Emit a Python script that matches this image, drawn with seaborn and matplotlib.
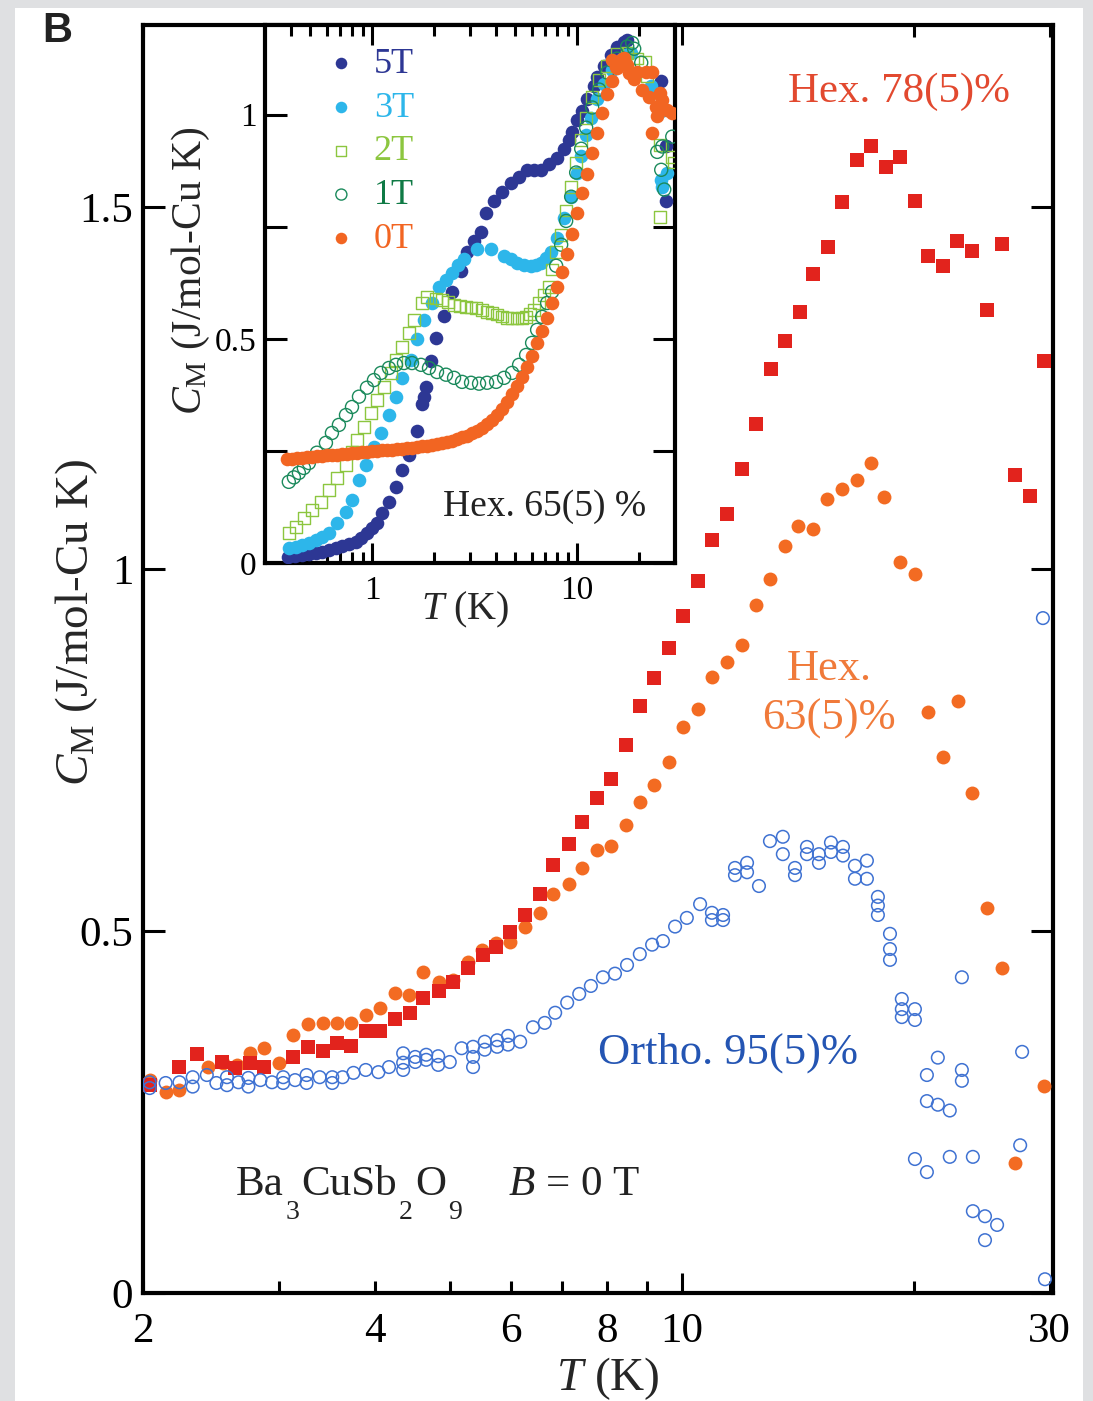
import matplotlib
matplotlib.use("Agg")
import matplotlib.pyplot as plt
from matplotlib.patches import Rectangle
from matplotlib.ticker import FixedLocator, FixedFormatter
import pandas as pd
import seaborn as sns

# ---------------- main panel: B = 0 T ----------------
hex78_T = [2.04, 2.23, 2.35, 2.53, 2.63, 2.75, 2.87, 3.13, 3.27, 3.42, 3.57, 3.72, 3.89,
           4.06, 4.24, 4.44, 4.61, 4.84, 5.05, 5.28, 5.52, 5.74, 5.98, 6.26, 6.55, 6.80,
           7.14, 7.42, 7.76, 8.09, 8.46, 8.82, 9.20, 9.62, 10.03, 10.49, 10.94, 11.44,
           11.96, 12.48, 13.05, 13.60, 14.23, 14.79, 15.47, 16.13, 16.87, 17.59, 18.40,
           19.18, 20.06, 20.86, 21.82, 22.74, 23.78, 24.87, 26.01, 27.04, 28.28, 29.49]
hex78_C = [.287, .312, .330, .319, .311, .318, .312, .326, .340, .334, .345, .341, .362,
           .362, .378, .387, .407, .417, .430, .449, .467, .478, .499, .522, .551, .591,
           .620, .651, .684, .710, .757, .811, .849, .890, .935, .983, 1.040, 1.076,
           1.138, 1.200, 1.276, 1.315, 1.354, 1.407, 1.445, 1.507, 1.565, 1.584, 1.555,
           1.569, 1.508, 1.432, 1.418, 1.453, 1.439, 1.358, 1.448, 1.130, 1.101, 1.287]

hex63_T = [2.04, 2.14, 2.23, 2.43, 2.54, 2.65, 2.75, 2.87, 3.00, 3.13, 3.27, 3.42, 3.57,
           3.72, 3.89, 4.06, 4.24, 4.43, 4.61, 4.84, 5.05, 5.28, 5.51, 5.74, 5.98, 6.26,
           6.55, 6.80, 7.14, 7.42, 7.76, 8.09, 8.46, 8.82, 9.20, 9.62, 10.03, 10.49,
           10.94, 11.44, 11.96, 12.48, 13.01, 13.60, 14.14, 14.79, 15.42, 16.13, 16.87,
           17.59, 18.29, 19.18, 20.06, 20.86, 21.82, 22.80, 23.78, 24.87, 26.01, 27.04,
           29.49]
hex63_C = [.294, .278, .280, .312, .318, .315, .331, .338, .318, .356, .372, .373, .373,
           .373, .384, .394, .414, .412, .443, .430, .432, .457, .474, .483, .485, .506,
           .525, .551, .565, .587, .612, .617, .646, .678, .702, .733, .782, .807,
           .851, .872, .895, .950, .986, 1.032, 1.059, 1.055, 1.097, 1.110, 1.123,
           1.146, 1.099, 1.010, .993, .802, .740, .818, .691, .532, .449, .180,
           .286]

ortho_T = [2.04, 2.04, 2.14, 2.23, 2.32, 2.32, 2.42, 2.49, 2.57, 2.57,
           2.66, 2.74, 2.74, 2.84, 2.94, 3.04, 3.04, 3.15, 3.26, 3.26,
           3.39, 3.52, 3.52, 3.63, 3.75, 3.89, 4.04, 4.17, 4.35, 4.35,
           4.35, 4.51, 4.51, 4.66, 4.66, 4.83, 4.83, 5.00, 5.18, 5.36,
           5.36, 5.36, 5.55, 5.55, 5.76, 5.76, 5.95, 5.95, 6.17, 6.41,
           6.64, 6.85, 7.10, 7.36, 7.62, 7.90, 8.19, 8.49, 8.82, 9.15,
           9.45, 9.80, 10.15, 10.56, 10.94, 10.94, 11.31, 11.31, 11.72, 11.72,
           12.15, 12.15, 12.59, 13.01, 13.52, 13.52, 14.02, 14.02, 14.53, 14.53,
           15.06, 15.06, 15.61, 15.61, 16.18, 16.18, 16.77, 16.77, 17.38, 17.38,
           17.96, 17.96, 17.96, 18.62, 18.62, 18.62, 19.29, 19.29, 19.29, 20.06,
           20.06, 20.79, 21.48, 20.79, 21.48, 22.26, 23.08, 23.08, 23.08, 20.06,
           20.79, 22.26, 23.85, 23.85, 24.73, 25.64, 24.73, 27.63, 27.47, 29.40,
           29.58]
ortho_C = [.291, .283, .290, .291, .298, .285, .301, .290, .298, .287,
           .291, .297, .285, .294, .291, .298, .290, .294, .301, .290,
           .298, .298, .290, .298, .304, .308, .305, .312, .318, .331,
           .308, .319, .326, .329, .322, .327, .315, .319, .338, .340,
           .326, .312, .347, .336, .349, .340, .355, .343, .347, .367,
           .373, .387, .401, .413, .424, .436, .441, .453, .468, .481,
           .486, .506, .518, .537, .525, .515, .522, .515, .587, .577,
           .594, .581, .562, .624, .630, .606, .587, .577, .616, .606,
           .606, .594, .622, .609, .616, .604, .590, .572, .597, .572,
           .547, .535, .522, .496, .475, .460, .406, .392, .381, .392,
           .377, .301, .325, .265, .260, .252, .436, .308, .293, .185,
           .167, .188, .188, .113, .106, .094, .073, .333, .204, .932,
           .019]

main_xticks = [2, 3, 4, 5, 6, 7, 8, 9, 20, 30]
main_xticklabels = ["2", "", "4", "", "6", "", "8", "", "", "30"]
main_yticks = [0, 0.5, 1, 1.5]
main_yticklabels = ["0", "0.5", "1", "1.5"]

# ---------------- inset: Hex. 65(5) % in field ----------------
T_5T = [.39, .42, .454, .491, .531, .569, .615, .665, .712, .770,
        .833, .881, .943, .997, 1.055, 1.116, 1.207, 1.306, 1.398, 1.512,
        1.654, 1.750, 1.790, 1.830, 1.936, 2.048, 2.241, 2.452, 2.713, 2.902,
        3.140, 3.397, 3.593, 3.931, 4.302, 4.760, 5.207, 5.698, 6.164, 6.669,
        7.296, 7.984, 8.637, 9.136, 9.450, 9.997, 10.575, 11.186, 12.10, 12.517,
        13.54, 14.65, 15.673, 16.96, 17.54, 25.70, 27.19, 27.19]
C_5T = [.013, .015, .018, .020, .022, .025, .029, .033, .038, .042,
        .047, .055, .067, .078, .089, .112, .136, .170, .208, .241,
        .295, .355, .371, .393, .451, .502, .551, .605, .652, .694,
        .718, .739, .781, .808, .828, .848, .862, .877, .877, .877,
        .891, .904, .924, .944, .962, .987, 1.009, 1.036, 1.063, 1.085,
        1.109, 1.132, 1.152, 1.163, 1.167, 1.074, .929, .808]

T_3T = [.392, .4245, .454, .491, .531, .569, .615, .673, .745, .797,
        .862, .932, 1.020, 1.104, 1.207, 1.306, 1.398, 1.546, 1.654, 1.790,
        1.958, 2.118, 2.292, 2.452, 2.623, 2.806, 3.248, 3.801, 4.399, 4.760,
        5.092, 5.509, 5.960, 6.304, 6.669, 7.055, 7.463, 7.984, 8.637, 9.344,
        9.997, 10.457, 11.061, 11.70, 12.517, 13.54, 14.817, 15.673, 16.58, 17.34,
        18.35, 22.97, 25.70, 27.50, 26.0, 25.70]
C_3T = [.033, .036, .040, .045, .051, .058, .067, .089, .114, .141,
        .185, .219, .259, .290, .330, .371, .413, .453, .500, .543,
        .580, .616, .632, .647, .665, .679, .701, .701, .685, .677,
        .670, .665, .663, .665, .670, .680, .694, .725, .770, .817,
        .871, .908, .955, .993, 1.036, 1.069, 1.100, 1.115, 1.125, 1.133,
        1.138, 1.063, 1.009, .871, .839, .855]

T_2T = [.392, .4245, .4644, .5081, .5622, .615, .673, .745, .797, .843,
        .9116, .9862, 1.055, 1.1414, 1.235, 1.306, 1.398, 1.512, 1.599, 1.750,
        1.851, 2.048, 2.191, 2.344, 2.508, 2.683, 2.870, 3.036, 3.211, 3.435,
        3.634, 3.844, 4.067, 4.302, 4.550, 4.814, 5.092, 5.386, 5.634, 5.894,
        6.164, 6.521, 6.898, 7.296, 7.547, 7.894, 8.351, 8.833, 9.344, 9.885,
        10.457, 11.061, 11.833, 12.80, 14.007, 15.673, 17.54, 19.63, 21.47, 21.96,
        25.42, 29.09, 25.42, 29.75]
C_2T = [.067, .080, .100, .118, .136, .163, .190, .219, .248, .275,
        .304, .335, .364, .393, .424, .453, .482, .513, .542, .580,
        .594, .590, .587, .582, .576, .573, .571, .570, .569, .565,
        .560, .557, .554, .550, .547, .546, .545, .547, .549, .556,
        .565, .580, .598, .616, .655, .694, .732, .786, .839, .893,
        .944, .993, 1.040, 1.078, 1.109, 1.136, 1.138, 1.125, 1.118, 1.085,
        .933, .906, .772, .893]

T_1T = [.392, .415, .439, .464, .491, .5375, .5947, .6362, .688, .745,
        .797, .862, .943, 1.020, 1.104, 1.207, 1.306, 1.429, 1.564, 1.730,
        1.893, 2.071, 2.292, 2.508, 2.744, 3.036, 3.321, 3.634, 4.021, 4.399,
        4.814, 5.207, 5.634, 6.027, 6.376, 6.745, 7.135, 7.547, 7.894, 8.351,
        8.833, 9.344, 9.885, 10.457, 11.061, 11.833, 12.80, 14.007, 15.673, 17.54,
        18.553, 18.97, 20.53, 24.575, 25.70, 26.59, 26.0, 29.09]
C_1T = [.181, .191, .201, .212, .223, .246, .268, .290, .308, .330,
        .348, .371, .391, .408, .424, .435, .442, .446, .446, .442,
        .435, .426, .420, .413, .404, .402, .400, .402, .404, .413,
        .424, .442, .464, .491, .520, .549, .580, .605, .663, .710,
        .763, .817, .871, .924, .971, 1.016, 1.056, 1.094, 1.125, 1.152,
        1.16, 1.147, 1.116, .917, .877, .833, .929, .951]

T_0T = [.3836, .4058, .4293, .4541, .4804, .5081, .5375, .5686, .6014, .6362,
        .6730, .7119, .7531, .7966, .8427, .8914, .9429, .9974, 1.0551, 1.1161,
        1.1806, 1.2489, 1.3211, 1.3975, 1.4783, 1.5638, 1.6542, 1.7499, 1.8511, 1.9581,
        2.0714, 2.1911, 2.3178, 2.4519, 2.5937, 2.7436, 2.9023, 3.0701, 3.2476, 3.4354,
        3.6341, 3.8442, 4.0665, 4.3017, 4.5504, 4.8135, 5.0919, 5.3863, 5.6978, 6.0273,
        6.3758, 6.7445, 7.1345, 7.5470, 7.9835, 8.4451, 8.9334, 9.4500, 9.9965, 10.575,
        11.186, 11.833, 12.517, 13.241, 14.007, 14.817, 15.673, 16.580,
        16.96, 15.50, 14.817, 17.54, 17.94, 18.97, 19.63, 20.76, 21.72, 22.46,
        23.23, 23.23, 24.30, 24.575, 25.42, 26.0, 27.50, 29.09]
C_0T = [.231, .233, .234, .235, .236, .237, .238, .239, .240, .241,
        .242, .243, .244, .245, .246, .247, .248, .249, .250, .251,
        .252, .253, .254, .255, .256, .257, .258, .260, .262, .264,
        .266, .268, .270, .273, .276, .280, .284, .289, .295, .302,
        .310, .319, .330, .343, .358, .376, .395, .415, .437, .462,
        .490, .518, .547, .580, .615, .650, .690, .733, .780, .825,
        .868, .915, .960, 1.003, 1.045, 1.075, 1.105, 1.125,
        1.127, 1.107, 1.123, 1.110, 1.094, 1.080, 1.096, 1.056, 1.096, 1.040,
        1.096, .960, 1.018, .996, 1.049, 1.033, 1.011, 1.004]

inset_xticks_major = [1, 10]
inset_xticks_minor = [.4, .5, .6, .7, .8, .9, 2, 3, 4, 5, 6, 7, 8, 9, 20]
inset_yticks = [0, .25, .5, .75, 1]
inset_yticklabels = ["0", "", "0.5", "", "1"]

# ---------------- colours ----------------
RED = "#e2231d"
RED_TXT = "#e2492f"
ORANGE = "#f36b22"
ORANGE_TXT = "#f07a3a"
BLUE = "#3f72d2"
BLUE_TXT = "#2455b3"
C5 = "#2d3794"
C3 = "#2db6ea"
C2 = "#8cc63f"
C1 = "#1b8a5c"
C1_TXT = "#0f7a45"
C0 = "#f26522"
INK = "#222222"

sns.set_style("ticks")
plt.rcParams.update({
    "font.family": ["Liberation Serif", "DejaVu Serif"],
    "mathtext.fontset": "custom",
    "mathtext.rm": "Liberation Serif",
    "mathtext.it": "Liberation Serif:italic",
    "mathtext.bf": "Liberation Serif:bold",
    "axes.linewidth": 3.0,
    "axes.edgecolor": "black",
    "xtick.direction": "in",
    "ytick.direction": "in",
    "xtick.color": "black",
    "ytick.color": "black",
})

W, H = 1093, 1401
fig = plt.figure(figsize=(W / 100, H / 100), dpi=100)
fig.patch.set_facecolor("#dfe0e2")
fig.patches.append(Rectangle((15 / W, 0), (1083 - 15) / W, (H - 8) / H,
                             transform=fig.transFigure, facecolor="white",
                             edgecolor="none", zorder=-10))


def fx(px):
    return px / W


def fy(py):
    return 1 - py / H


# main axes
ax = fig.add_axes([fx(143), fy(1293), (1053 - 143) / W, (1293 - 25) / H])
ax.set_facecolor("white")
ax.set_xscale("log")

df78 = pd.DataFrame({"T": hex78_T, "C": hex78_C})
df63 = pd.DataFrame({"T": hex63_T, "C": hex63_C})
dfo = pd.DataFrame({"T": ortho_T, "C": ortho_C})

sns.scatterplot(data=df63, x="T", y="C", marker="o", s=100, color=ORANGE,
                linewidth=0, ax=ax, zorder=3)
sns.scatterplot(data=df78, x="T", y="C", marker="s", s=95, color=RED,
                linewidth=0, ax=ax, zorder=4)
sns.scatterplot(data=dfo, x="T", y="C", marker="o", s=82, color=BLUE,
                facecolor="none", edgecolor=BLUE, linewidth=1.1, ax=ax, zorder=5)
ax.collections[-1].set_facecolor("none")

ax.set_xlim(2, 30.3)
ax.set_ylim(0, 1.751)
ax.xaxis.set_major_locator(FixedLocator([10]))
ax.xaxis.set_major_formatter(FixedFormatter(["10"]))
ax.xaxis.set_minor_locator(FixedLocator(main_xticks))
ax.xaxis.set_minor_formatter(FixedFormatter(main_xticklabels))
ax.set_yticks(main_yticks)
ax.set_yticklabels(main_yticklabels)
ax.tick_params(axis="both", which="both", direction="in", top=True, right=True,
               width=2.2, labelsize=31)
ax.tick_params(axis="x", which="major", length=14.5, pad=14)
ax.tick_params(axis="x", which="minor", length=8.5, pad=14)
ax.tick_params(axis="y", which="major", length=15.5, pad=7)
ax.set_xlabel(r"$T$ (K)", fontsize=34)
ax.set_ylabel(r"$C_{\mathrm{M}}$ (J/mol-Cu K)", fontsize=34)
ax.xaxis.set_label_coords(0.511, -0.049)
ax.yaxis.set_label_coords(-0.047, 0.529)
for sp in ax.spines.values():
    sp.set_linewidth(3.0)

# inset axes
axi = fig.add_axes([fx(265), fy(563), (675 - 265) / W, (563 - 25) / H], zorder=5)
axi.set_facecolor("white")
axi.set_xscale("log")

series = [
    ("5T", T_5T, C_5T, "o", C5, True),
    ("3T", T_3T, C_3T, "o", C3, True),
    ("2T", T_2T, C_2T, "s", C2, False),
    ("1T", T_1T, C_1T, "o", C1, False),
    ("0T", T_0T, C_0T, "o", C0, True),
]
for lab, tt, cc, mk, col, filled in series:
    d = pd.DataFrame({"T": tt, "C": cc})
    if filled:
        sns.scatterplot(data=d, x="T", y="C", marker=mk, s=96, color=col,
                        linewidth=0, ax=axi, label=lab, zorder=3)
    else:
        sns.scatterplot(data=d, x="T", y="C", marker=mk, s=88 if mk == "o" else 70,
                        color=col, facecolor="none", edgecolor=col, linewidth=1.0,
                        ax=axi, label=lab, zorder=3)
        axi.collections[-1].set_facecolor("none")

axi.set_xlim(0.3, 30)
axi.set_ylim(0, 1.2)
axi.xaxis.set_major_locator(FixedLocator(inset_xticks_major))
axi.xaxis.set_major_formatter(FixedFormatter(["1", "10"]))
axi.xaxis.set_minor_locator(FixedLocator(inset_xticks_minor))
axi.xaxis.set_minor_formatter(FixedFormatter([""] * len(inset_xticks_minor)))
axi.set_yticks(inset_yticks)
axi.set_yticklabels(inset_yticklabels)
axi.tick_params(axis="both", which="both", direction="in", top=True, right=True,
                width=2.2, labelsize=24)
axi.tick_params(axis="x", which="major", length=14.5, pad=9)
axi.tick_params(axis="x", which="minor", length=8, pad=9)
axi.tick_params(axis="y", which="major", length=15.5, pad=6)
axi.set_xlabel(r"$T$ (K)", fontsize=29)
axi.set_ylabel(r"$C_{\mathrm{M}}$ (J/mol-Cu K)", fontsize=30)
axi.xaxis.set_label_coords(0.488, -0.050)
axi.yaxis.set_label_coords(-0.129, 0.543)
for sp in axi.spines.values():
    sp.set_linewidth(3.0)

leg = axi.legend(loc="upper left", bbox_to_anchor=(0.107, 0.985), frameon=False,
                 fontsize=26, handlelength=1.0, handletextpad=0.4,
                 labelspacing=0.29, borderpad=0.4, borderaxespad=0,
                 markerscale=0.85, labelcolor=[C5, C3, C2, C1_TXT, C0])

axi.text(0.683, 0.104, "Hex. 65(5) %", transform=axi.transAxes, fontsize=27,
         ha="center", va="center", color=INK)

# annotations on the main panel
fig.text(fx(899), fy(92), "Hex. 78(5)%", color=RED_TXT, fontsize=31,
         ha="center", va="center")
fig.text(fx(829), fy(694), "Hex.\n63(5)%", color=ORANGE_TXT, fontsize=32,
         ha="center", va="center", multialignment="center", linespacing=1.3)
fig.text(fx(728), fy(1053), "Ortho. 95(5)%", color=BLUE_TXT, fontsize=32,
         ha="center", va="center")

# chemical formula with deep, small subscripts, laid out piece by piece
renderer = fig.canvas.get_renderer()
formula = [("Ba", 31, 0), ("3", 20, 24), ("CuSb", 31, 0), ("2", 20, 24),
           ("O", 31, 0), ("9", 20, 24)]
xpos = 236.0
for piece, size, drop in formula:
    t = fig.text(fx(xpos), fy(1195 + drop), piece, color=INK, fontsize=size,
                 ha="left", va="baseline")
    xpos += t.get_window_extent(renderer).width + 2
fig.text(fx(508), fy(1195), r"$B$ = 0 T", color=INK, fontsize=31,
         ha="left", va="baseline")
fig.text(fx(57), fy(31), "B", fontsize=30, fontweight="bold",
         family="Liberation Sans", ha="center", va="center", color=INK)

fig.savefig("out.png", dpi=100)
